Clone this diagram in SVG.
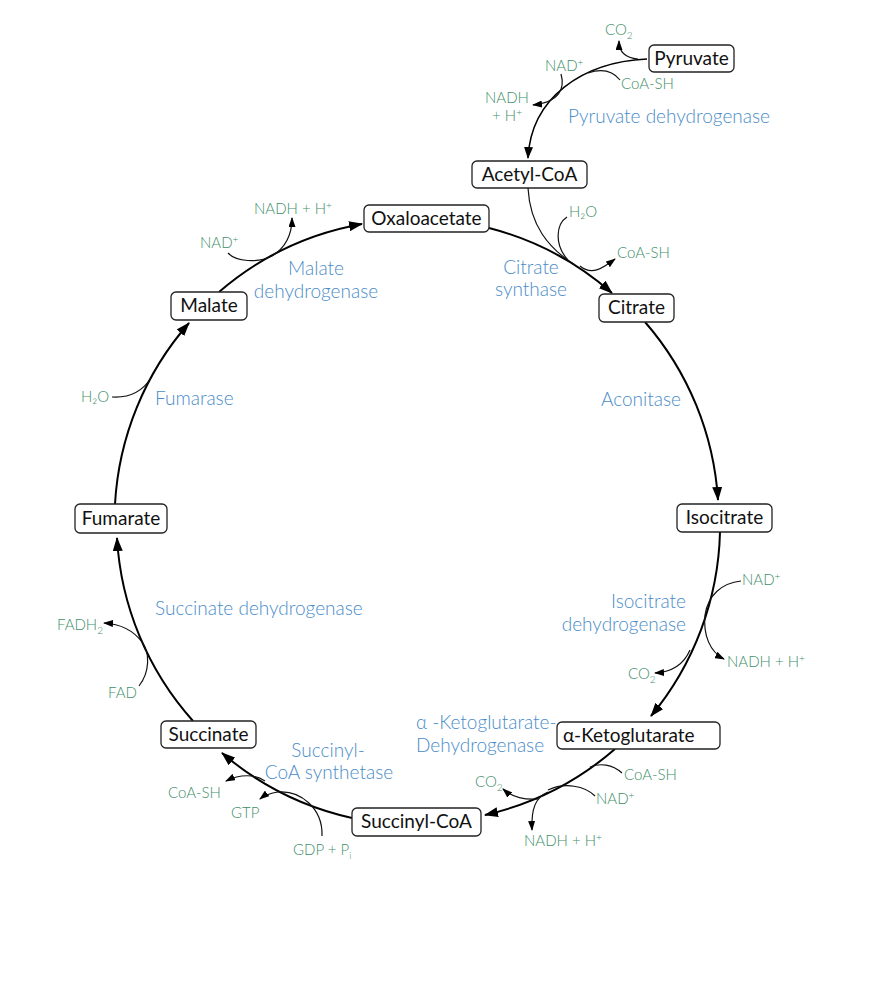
<svg xmlns="http://www.w3.org/2000/svg" width="891" height="1000" viewBox="0 0 891 1000">
<style>
.box{fill:#fff;stroke:#222;stroke-width:1.3}
.nt{font-family:Lato,"Liberation Sans",sans-serif;font-size:19px;fill:#111;text-anchor:middle}
.nts{font-family:Lato,"Liberation Sans",sans-serif;font-size:19px;fill:#111;text-anchor:start}
.g{font-family:Lato,"Liberation Sans",sans-serif;font-size:15px;fill:#3f8f6b;font-weight:300}
.b{font-family:Lato,"Liberation Sans",sans-serif;font-size:19px;fill:#4a8cc8;font-weight:300}
.main{fill:none;stroke:#000;stroke-width:2;marker-end:url(#big)}
.thin{fill:none;stroke:#111;stroke-width:1.2}
.side{fill:none;stroke:#111;stroke-width:1.2;marker-end:url(#small)}
</style>
<defs>
<marker id="big" viewBox="0 0 14 10" refX="13" refY="5" markerWidth="14" markerHeight="10" markerUnits="userSpaceOnUse" orient="auto"><path d="M0,0 L14,5 L0,10 z" fill="#000"/></marker>
<marker id="mid" viewBox="0 0 12 9" refX="11" refY="4.5" markerWidth="12" markerHeight="9" markerUnits="userSpaceOnUse" orient="auto"><path d="M0,0 L12,4.5 L0,9 z" fill="#000"/></marker>
<marker id="small" viewBox="0 0 10 7" refX="9" refY="3.5" markerWidth="10" markerHeight="7" markerUnits="userSpaceOnUse" orient="auto"><path d="M0,0 L10,3.5 L0,7 z" fill="#000"/></marker>
</defs>
<rect width="891" height="1000" fill="#fff"/>
<g id="connectors">
<path class="main" d="M 489 228 A 300 300 0 0 1 612 293"/>
<path class="main" d="M 645 322 A 300 300 0 0 1 718 500"/>
<path class="main" d="M 720 532 A 300 300 0 0 1 651 716"/>
<path class="main" d="M 615 749 A 300 300 0 0 1 485 815"/>
<path class="main" d="M 352 818 A 300 300 0 0 1 222 753"/>
<path class="main" d="M 193 721 A 300 300 0 0 1 117 538"/>
<path class="main" d="M 115 504 A 300 300 0 0 1 189 323"/>
<path class="main" d="M 219 292 A 300 300 0 0 1 362 224"/>
<path fill="none" stroke="#000" stroke-width="1.5" marker-end="url(#mid)" d="M 647 59 C 582 62, 531 98, 528 158"/>
<path class="side" d="M 638 59 C 625 58, 619 52, 619 41"/>
<path class="thin" d="M 620 80 C 612 70, 600 69, 588 73"/>
<path class="side" d="M 561 74 C 565 88, 560 102, 533 105"/>
<path class="thin" d="M 528 188 C 530 225, 548 248, 575 265"/>
<path class="thin" d="M 567 217 C 556 224, 554 245, 568 260"/>
<path class="side" d="M 580 266 C 592 276, 603 268, 615 259"/>
<path class="side" d="M 741 581 C 722 583, 708 595, 705 615 C 703 635, 710 652, 724 659"/>
<path class="side" d="M 690 650 C 684 664, 672 672, 655 673"/>
<path class="thin" d="M 622 773 C 612 764, 600 763, 590 767"/>
<path class="thin" d="M 595 796 C 585 786, 565 782, 548 790"/>
<path class="side" d="M 538 799 C 525 800, 512 797, 503 789"/>
<path class="side" d="M 548 792 C 536 797, 531 808, 532 830"/>
<path class="side" d="M 322 836 C 323 808, 300 790, 278 792 C 270 793, 265 795, 260 799"/>
<path class="side" d="M 265 781 C 255 774, 240 774, 226 781"/>
<path class="side" d="M 139 686 C 150 672, 150 652, 142 642 C 133 630, 120 624, 104 623"/>
<path class="thin" d="M 112 397 C 128 398, 142 392, 151 378"/>
<path class="side" d="M 228 253 C 236 262, 258 263, 272 256 C 285 248, 292 235, 292 218"/>
</g>
<g id="labels">
<text class="g" x="605" y="35">CO<tspan font-size="10" dy="4">2</tspan></text>
<text class="g" x="545" y="71">NAD<tspan font-size="10" dy="-5">+</tspan></text>
<text class="g" x="621" y="89">CoA-SH</text>
<text class="g" x="507" y="103" text-anchor="middle">NADH</text>
<text class="g" x="507" y="121" text-anchor="middle">+ H<tspan font-size="10" dy="-5">+</tspan></text>
<text class="b" x="568" y="123">Pyruvate dehydrogenase</text>
<text class="g" x="569" y="217">H₂O</text>
<text class="g" x="617" y="258">CoA-SH</text>
<text class="b" x="531" y="274" text-anchor="middle">Citrate</text>
<text class="b" x="531" y="296" text-anchor="middle">synthase</text>
<text class="b" x="641" y="406" text-anchor="middle">Aconitase</text>
<text class="b" x="686" y="608" text-anchor="end">Isocitrate</text>
<text class="b" x="686" y="631" text-anchor="end">dehydrogenase</text>
<text class="g" x="742" y="585">NAD<tspan font-size="10" dy="-5">+</tspan></text>
<text class="g" x="727" y="667">NADH + H<tspan font-size="10" dy="-5">+</tspan></text>
<text class="g" x="628" y="679">CO<tspan font-size="10" dy="4">2</tspan></text>
<text class="b" x="416" y="729">α -Ketoglutarate-</text>
<text class="b" x="416" y="752">Dehydrogenase</text>
<text class="g" x="624" y="780">CoA-SH</text>
<text class="g" x="596" y="804">NAD<tspan font-size="10" dy="-5">+</tspan></text>
<text class="g" x="475" y="787">CO<tspan font-size="10" dy="4">2</tspan></text>
<text class="g" x="524" y="846">NADH + H<tspan font-size="10" dy="-5">+</tspan></text>
<text class="b" x="328" y="757" text-anchor="middle">Succinyl-</text>
<text class="b" x="329" y="779" text-anchor="middle">CoA synthetase</text>
<text class="g" x="168" y="798">CoA-SH</text>
<text class="g" x="231" y="818">GTP</text>
<text class="g" x="293" y="855">GDP + P<tspan font-size="10" dy="4">i</tspan></text>
<text class="b" x="155" y="615">Succinate dehydrogenase</text>
<text class="g" x="57" y="630">FADH<tspan font-size="10" dy="4">2</tspan></text>
<text class="g" x="108" y="698">FAD</text>
<text class="b" x="155" y="405">Fumarase</text>
<text class="g" x="81" y="402">H₂O</text>
<text class="b" x="316" y="275" text-anchor="middle">Malate</text>
<text class="b" x="316" y="298" text-anchor="middle">dehydrogenase</text>
<text class="g" x="200" y="248">NAD<tspan font-size="10" dy="-5">+</tspan></text>
<text class="g" x="254" y="214">NADH + H<tspan font-size="10" dy="-5">+</tspan></text>
</g>
<g id="pyruvate"><rect class="box" x="649" y="45" width="85" height="27" rx="5"/><text class="nt" x="691.5" y="65">Pyruvate</text></g>
<g id="acetylcoa"><rect class="box" x="472" y="161" width="115" height="27" rx="5"/><text class="nt" x="529.5" y="181">Acetyl-CoA</text></g>
<g id="oxaloacetate"><rect class="box" x="364" y="205" width="125" height="27" rx="5"/><text class="nt" x="426.5" y="225">Oxaloacetate</text></g>
<g id="citrate"><rect class="box" x="599" y="294" width="75" height="28" rx="5"/><text class="nt" x="636.5" y="314">Citrate</text></g>
<g id="isocitrate"><rect class="box" x="677" y="504" width="95" height="28" rx="5"/><text class="nt" x="724.5" y="524">Isocitrate</text></g>
<g id="ketoglutarate"><rect class="box" x="557" y="722" width="163" height="27" rx="5"/><text class="nts" x="563" y="742">α-Ketoglutarate</text></g>
<g id="succinylcoa"><rect class="box" x="352" y="808" width="129" height="28" rx="5"/><text class="nt" x="416.5" y="828">Succinyl-CoA</text></g>
<g id="succinate"><rect class="box" x="161" y="721" width="95" height="27" rx="5"/><text class="nt" x="208.5" y="741">Succinate</text></g>
<g id="fumarate"><rect class="box" x="75" y="504" width="92" height="29" rx="5"/><text class="nt" x="121" y="525">Fumarate</text></g>
<g id="malate"><rect class="box" x="171" y="292" width="76" height="28" rx="5"/><text class="nt" x="209" y="312">Malate</text></g>
</svg>
